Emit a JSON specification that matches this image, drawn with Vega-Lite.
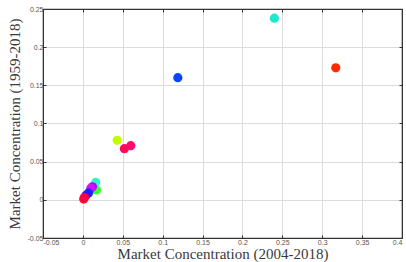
{
  "$schema": "https://vega.github.io/schema/vega-lite/v6.json",
  "width": 359,
  "height": 229,
  "autosize": {"type": "none"},
  "padding": {"left": 43, "top": 9, "right": 4, "bottom": 24},
  "background": "white",
  "config": {
    "view": {"stroke": "#333", "strokeWidth": 1.2},
    "axis": {
      "labelFont": "Liberation Sans",
      "labelFontSize": 7,
      "labelColor": "#555",
      "titleFont": "Liberation Serif",
      "titleFontSize": 15,
      "titleFontWeight": "normal",
      "titleColor": "#3a3a3a",
      "gridColor": "#dcdcdc",
      "gridWidth": 1,
      "domainColor": "#333",
      "tickColor": "#333",
      "tickSize": -3,
      "labelPadding": 3
    }
  },
  "data": {
    "values": [
      {"id": "a", "x": 0.240, "y": 0.238},
      {"id": "b", "x": 0.317, "y": 0.173},
      {"id": "c", "x": 0.119, "y": 0.160},
      {"id": "d", "x": 0.043, "y": 0.078},
      {"id": "e", "x": 0.060, "y": 0.071},
      {"id": "f", "x": 0.052, "y": 0.067},
      {"id": "g", "x": 0.016, "y": 0.023},
      {"id": "h", "x": 0.017, "y": 0.013},
      {"id": "i", "x": 0.012, "y": 0.017},
      {"id": "j", "x": 0.010, "y": 0.015},
      {"id": "k", "x": 0.007, "y": 0.009},
      {"id": "l", "x": 0.004, "y": 0.006},
      {"id": "m", "x": 0.001, "y": 0.001},
      {"id": "n", "x": 0.002, "y": 0.003}
    ]
  },
  "resolve": {"axis": {"x": "independent", "y": "independent"}},
  "layer": [
    {
      "mark": {"type": "circle", "size": 85, "opacity": 1},
      "encoding": {
        "x": {
          "field": "x",
          "type": "quantitative",
          "scale": {"domain": [-0.05, 0.4], "nice": false, "zero": false},
          "axis": {
            "title": "Market Concentration (2004-2018)",
            "titlePadding": 1,
            "values": [-0.05, 0, 0.05, 0.1, 0.15, 0.2, 0.25, 0.3, 0.35, 0.4],
            "labelExpr": "replace(format(datum.value, '.2~f'), '−', '-')"
          }
        },
        "y": {
          "field": "y",
          "type": "quantitative",
          "scale": {"domain": [-0.05, 0.25], "nice": false, "zero": false},
          "axis": {
            "title": "Market Concentration (1959-2018)",
            "titlePadding": 5,
            "values": [-0.05, 0, 0.05, 0.1, 0.15, 0.2, 0.25],
            "labelExpr": "replace(format(datum.value, '.2~f'), '−', '-')"
          }
        },
        "color": {
          "field": "id",
          "type": "nominal",
          "legend": null,
          "scale": {
            "domain": ["a","b","c","d","e","f","g","h","i","j","k","l","m","n"],
            "range": ["#1ee8d0","#ff2a00","#0a46ff","#c0ff00","#ff0a70","#ff0a5a","#2bffc8","#3cff28","#b400ff","#d010ff","#1428ff","#3010ff","#ff1030","#ff0048"]
          }
        }
      }
    },
    {
      "mark": {"type": "circle", "size": 1, "opacity": 0},
      "encoding": {
        "x": {
          "field": "x",
          "type": "quantitative",
          "axis": {
            "orient": "top",
            "title": null,
            "labels": false,
            "grid": false,
            "values": [-0.05, 0, 0.05, 0.1, 0.15, 0.2, 0.25, 0.3, 0.35, 0.4]
          }
        },
        "y": {
          "field": "y",
          "type": "quantitative",
          "axis": {
            "orient": "right",
            "title": null,
            "labels": false,
            "grid": false,
            "values": [-0.05, 0, 0.05, 0.1, 0.15, 0.2, 0.25]
          }
        }
      }
    }
  ]
}
